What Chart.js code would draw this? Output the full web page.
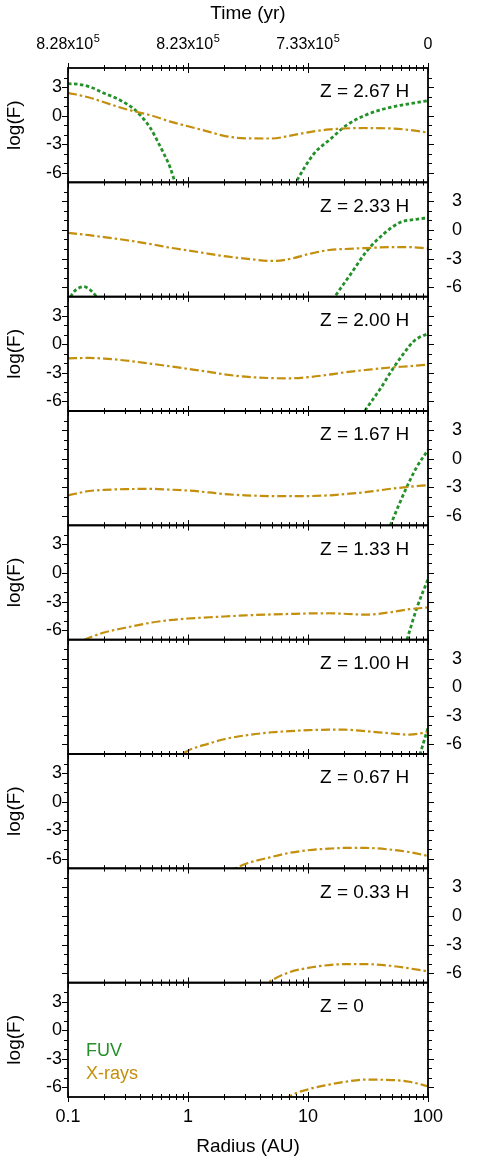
<!DOCTYPE html>
<html><head><meta charset="utf-8">
<script src="https://cdn.jsdelivr.net/npm/chart.js@4/dist/chart.umd.min.js"></script>
<style>
html,body{margin:0;padding:0;background:#fff;}
#wrap{position:relative;width:491px;height:1162px;overflow:hidden;background:#fff;}
#wrap canvas{position:absolute;left:0;}
</style></head><body><div id="wrap"></div>
<script>
// ---------------- data ----------------
const radiusGrid = [0.1,0.15,0.2,0.3,0.5,0.7,1,1.5,2,3,5,7,10,15,20,30,50,70,100];
const zLabels = ['Z = 2.67 H','Z = 2.33 H','Z = 2.00 H','Z = 1.67 H','Z = 1.33 H','Z = 1.00 H','Z = 0.67 H','Z = 0.33 H','Z = 0'];

const xray267 = [2.4,1.9,1.4,0.7,0.0,-0.6,-1.12,-1.7,-2.12,-2.38,-2.4,-2.12,-1.75,-1.45,-1.35,-1.3,-1.35,-1.5,-1.78];
const xray233 = [-0.3,-0.55,-0.75,-1.05,-1.5,-1.85,-2.15,-2.5,-2.75,-3.0,-3.25,-3.05,-2.55,-2.1,-2.0,-1.9,-1.8,-1.8,-1.95];
const xray200 = [-1.47,-1.43,-1.5,-1.7,-2.05,-2.3,-2.58,-2.9,-3.15,-3.4,-3.55,-3.57,-3.45,-3.18,-2.95,-2.7,-2.42,-2.3,-2.13];
const xray167 = [-3.85,-3.4,-3.28,-3.2,-3.18,-3.25,-3.35,-3.55,-3.72,-3.85,-3.93,-3.94,-3.93,-3.85,-3.72,-3.52,-3.15,-2.95,-2.78];
const xray133 = [-7.8,-6.8,-6.25,-5.75,-5.2,-4.95,-4.78,-4.65,-4.57,-4.45,-4.35,-4.3,-4.25,-4.23,-4.28,-4.38,-4.1,-3.8,-3.62];
const xray100 = [null,null,null,null,null,-7.9,-6.65,-5.9,-5.45,-5.05,-4.72,-4.6,-4.5,-4.45,-4.45,-4.6,-4.85,-4.97,-4.7];
const xray067 = [null,null,null,null,null,null,null,null,-7.6,-6.55,-5.8,-5.38,-5.1,-4.93,-4.86,-4.86,-5.05,-5.3,-5.7];
const xray033 = [null,null,null,null,null,null,null,null,null,-8.7,-6.75,-5.9,-5.45,-5.15,-5.06,-5.05,-5.25,-5.5,-5.82];
const xray000 = [null,null,null,null,null,null,null,null,null,null,-8.6,-6.95,-6.2,-5.7,-5.42,-5.18,-5.22,-5.4,-5.86];

const fuvR267 = [0.1,0.12,0.15,0.2,0.27,0.35,0.4,0.48,0.59,0.71,0.78,0.85,2,6.5,8,11.2,15.4,21,30,40,60,100];
const fuv267  = [3.35,3.3,3.05,2.35,1.65,0.75,0.05,-1.2,-3.3,-5.45,-7.05,-8.5,null,-9,-6.9,-4.0,-2.45,-1.0,0.05,0.6,1.1,1.57];
const fuvR233 = [0.1,0.11,0.125,0.135,0.15,0.17,0.18,1,14,16.5,22.6,31,42.7,59,80,100];
const fuv233  = [-7.6,-6.6,-6.05,-5.95,-6.2,-6.9,-7.4,null,-8.4,-7.1,-4.66,-2.19,-0.42,0.81,1.12,1.28];
const fuvR200 = [25,30,40,52,65,75,85,100];
const fuv200  = [-8.6,-6.94,-4.67,-2.4,-0.7,0.25,0.75,1.1];
const fuvR167 = [40,48.6,57,67,80,100];
const fuv167  = [-9.3,-6.98,-4.9,-2.9,-0.95,0.9];
const fuvR133 = [58,67,81,100];
const fuv133  = [-9.4,-6.94,-3.62,-0.66];
const fuvR100 = [75,86,100];
const fuv100  = [-9.5,-6.98,-4.25];

const xrayPanels = [xray267,xray233,xray200,xray167,xray133,xray100,xray067,xray033,xray000];
const fuvPanels = [[fuvR267,fuv267],[fuvR233,fuv233],[fuvR200,fuv200],[fuvR167,fuv167],[fuvR133,fuv133],[fuvR100,fuv100],null,null,null];

const xTickValues = [0.1,1,10,100];
const xTickLabels = ['0.1','1','10','100'];
const timeTickBase = ['8.28x10','8.23x10','7.33x10','0'];
const timeTickExp  = ['5','5','5',''];
const yTickValues = [-6,-3,0,3];
const legendLabels = ['FUV','X-rays'];

// ---------------- style / layout ----------------
const GREEN = '#23902a';
const GOLD = '#c38f0c';
const FONT = "'Liberation Sans', Arial, Helvetica, sans-serif";
const PLOT_TOP = 68, PLOT_BOTTOM = 1097, NP = 9;
const PH = (PLOT_BOTTOM - PLOT_TOP) / NP;
const MARGIN = 26;
const wrap = document.getElementById('wrap');

function makeFramePlugin(i) {
  return {
    id: 'frame' + i,
    afterDraw(chart) {
      const {ctx, chartArea: a, scales} = chart;
      const xs = scales.x, ys = scales.y;
      ctx.save();
      ctx.strokeStyle = '#000';
      ctx.lineWidth = 1;
      ctx.beginPath();
      for (let d = -1; d <= 2; d++) {
        for (let m = 1; m <= 9; m++) {
          const v = m * Math.pow(10, d);
          if (v > 100.0001) continue;
          const px = Math.round(xs.getPixelForValue(v)) + 0.5;
          const len = m === 1 ? 5 : 3;
          ctx.moveTo(px, a.top - len); ctx.lineTo(px, a.top + len);
          ctx.moveTo(px, a.bottom - len); ctx.lineTo(px, a.bottom + len);
        }
      }
      for (let v = -6; v <= 4; v++) {
        const py = Math.round(ys.getPixelForValue(v)) + 0.5;
        const len = v % 3 === 0 ? 6 : 4;
        ctx.moveTo(a.left - len, py); ctx.lineTo(a.left, py);
        ctx.moveTo(a.right, py); ctx.lineTo(a.right + len, py);
      }
      ctx.stroke();
      ctx.lineWidth = 1.8;
      ctx.strokeRect(a.left, a.top, a.right - a.left, a.bottom - a.top);
      ctx.fillStyle = '#000';
      ctx.font = '19px ' + FONT;
      ctx.textAlign = 'left';
      ctx.textBaseline = 'middle';
      ctx.fillText(zLabels[i], 320, a.top + 24);
      if (i === NP - 1) {
        ctx.font = '18px ' + FONT;
        ctx.fillStyle = GREEN;
        ctx.fillText(legendLabels[0], 86, a.top + 68);
        ctx.fillStyle = GOLD;
        ctx.fillText(legendLabels[1], 86, a.top + 91);
      }
      if (i === 0) {
        const x2 = scales.x2;
        ctx.fillStyle = '#000';
        ctx.textBaseline = 'alphabetic';
        for (let j = 0; j < xTickValues.length; j++) {
          const px = x2.getPixelForValue(xTickValues[j]);
          ctx.font = '16px ' + FONT;
          const wb = ctx.measureText(timeTickBase[j]).width;
          ctx.font = '11px ' + FONT;
          const we = timeTickExp[j] ? ctx.measureText(timeTickExp[j]).width + 0.5 : 0;
          const x0 = px - (wb + we) / 2;
          ctx.font = '16px ' + FONT;
          ctx.fillText(timeTickBase[j], x0, 49);
          if (we) { ctx.font = '11px ' + FONT; ctx.fillText(timeTickExp[j], x0 + wb + 0.5, 42); }
        }
      }
      ctx.restore();
    }
  };
}

for (let i = 0; i < NP; i++) {
  const pTop = PLOT_TOP + i * PH, pBot = pTop + PH;
  const cTop = i === 0 ? 0 : Math.floor(pTop) - MARGIN;
  const cBot = i === NP - 1 ? 1162 : Math.ceil(pBot) + MARGIN;
  const H = cBot - cTop;
  const canvas = document.createElement('canvas');
  canvas.width = 491; canvas.height = H;
  canvas.style.top = cTop + 'px';
  canvas.style.width = '491px'; canvas.style.height = H + 'px';
  wrap.appendChild(canvas);
  const leftSide = i % 2 === 0;
  const isFirst = i === 0, isLast = i === NP - 1;
  const padTop = isFirst ? 0 : pTop - cTop;
  const padBot = isLast ? 0 : cBot - pBot;

  const datasets = [];
  datasets.push({
    label: legendLabels[1],
    data: radiusGrid.map((r, k) => ({x: r, y: xrayPanels[i][k]})),
    borderColor: GOLD, borderWidth: 2.2, borderDash: [9, 3, 2.5, 3],
    pointRadius: 0, fill: false, spanGaps: false, cubicInterpolationMode: 'monotone'
  });
  if (fuvPanels[i]) {
    const [rr, vv] = fuvPanels[i];
    datasets.push({
      label: legendLabels[0],
      data: rr.map((r, k) => ({x: r, y: vv[k]})),
      borderColor: GREEN, borderWidth: 2.8, borderDash: [3.5, 2.5],
      pointRadius: 0, fill: false, spanGaps: false, cubicInterpolationMode: 'monotone'
    });
  }

  new Chart(canvas, {
    type: 'line',
    data: {datasets},
    plugins: [makeFramePlugin(i)],
    options: {
      responsive: false, animation: false, events: [],
      layout: {padding: {left: 0, right: 29, top: padTop, bottom: padBot}},
      plugins: {legend: {display: false}, tooltip: {enabled: false}},
      scales: {
        x: {
          type: 'logarithmic', position: 'bottom', min: 0.1, max: 100,
          display: isLast,
          afterBuildTicks: s => { s.ticks = xTickValues.map(v => ({value: v})); },
          afterFit: s => { s.height = isLast ? 1162 - PLOT_BOTTOM : 0; },
          grid: {display: false, drawTicks: false}, border: {display: false},
          ticks: {autoSkip: false, maxRotation: 0, color: '#000', padding: 9,
                  font: {family: FONT, size: 18},
                  callback: (v, idx) => xTickLabels[idx]},
          title: {display: true, text: 'Radius (AU)', color: '#000',
                  font: {family: FONT, size: 19}, padding: {top: 0, bottom: 4}}
        },
        x2: {
          type: 'logarithmic', position: 'top', min: 0.1, max: 100,
          display: isFirst,
          afterFit: s => { s.height = isFirst ? PLOT_TOP : 0; },
          grid: {display: false, drawTicks: false}, border: {display: false},
          ticks: {display: false},
          title: {display: true, text: 'Time (yr)', color: '#000',
                  font: {family: FONT, size: 19}, padding: {top: 2, bottom: 0}}
        },
        y: {
          type: 'linear', position: 'left', min: -7, max: 5,
          afterBuildTicks: s => { s.ticks = yTickValues.map(v => ({value: v})); },
          afterFit: s => { s.width = 68; },
          grid: {display: false, drawTicks: false}, border: {display: false},
          ticks: {display: leftSide, color: '#000', padding: 6,
                  font: {family: FONT, size: 18}},
          title: {display: leftSide, text: 'log(F)', color: '#000',
                  font: {family: FONT, size: 19}, padding: {top: 3, bottom: 0}}
        },
        y2: {
          type: 'linear', position: 'right', min: -7, max: 5,
          afterBuildTicks: s => { s.ticks = yTickValues.map(v => ({value: v})); },
          afterFit: s => { s.width = 34; },
          grid: {display: false, drawTicks: false}, border: {display: false},
          ticks: {display: !leftSide, color: '#000', padding: 6, crossAlign: 'far',
                  font: {family: FONT, size: 18}}
        }
      }
    }
  });
}
</script>
</body></html>
